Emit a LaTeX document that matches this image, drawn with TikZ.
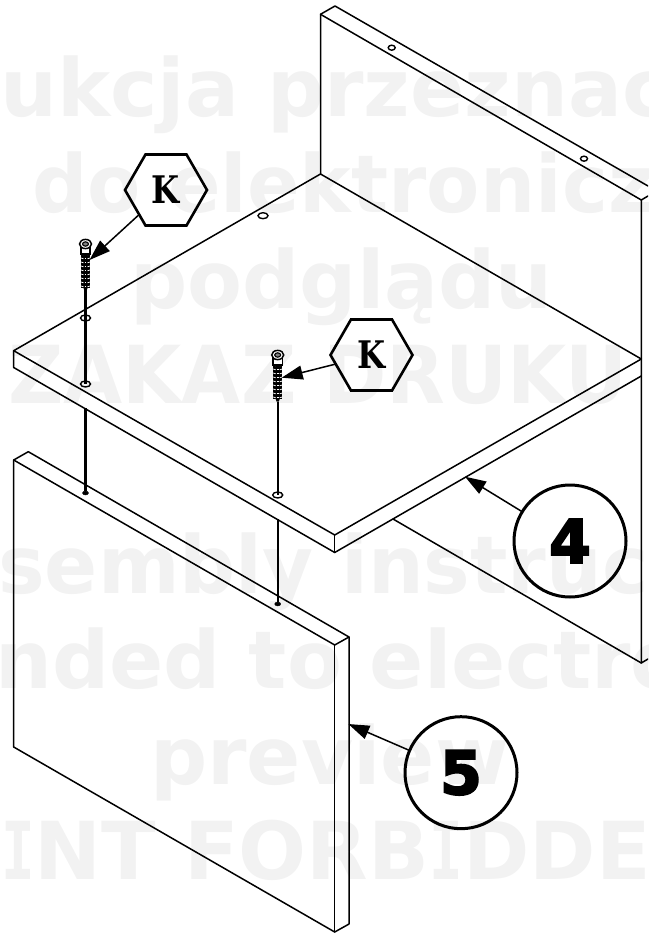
\documentclass[tikz,border=0pt]{standalone}
\usepackage{fontspec}
\usepackage{graphicx}
\usetikzlibrary{shapes.geometric,arrows.meta}
\newfontfamily\wmfont{DejaVu Sans Bold}
\newfontfamily\wmmono{DejaVu Sans Mono Bold}
\newfontfamily\kfont{DejaVu Serif Bold}
\newfontfamily\numfont[FakeBold=3.5]{DejaVu Sans Bold}
\definecolor{wm}{HTML}{F2F2F2}
\newcommand{\slabI}{\scalebox{.7}[1]{\wmmono I}}
\tikzset{
  part/.style={line width=1.5pt,line join=round,line cap=round},
  hexlabel/.style={draw,line width=2.6pt,regular polygon,regular polygon sides=6,minimum size=82pt,inner sep=0pt,outer sep=0pt},
  numcircle/.style={draw,circle,line width=3pt,minimum size=112pt,inner sep=0pt,outer sep=0pt},
  leader/.style={line width=1.5pt,-{Triangle[length=21pt,width=14pt]}},
  watermark/.style={text=wm,inner sep=0pt,anchor=base west,font=\wmfont\fontsize{80}{80}\selectfont},
  hole/.style={draw,ellipse,line width=1.4pt,inner sep=0pt,minimum width=10pt,minimum height=6pt},
  smallhole/.style={draw,ellipse,line width=1.4pt,inner sep=0pt,minimum width=7pt,minimum height=5pt},
  dot/.style={fill=black,draw=black,ellipse,inner sep=0pt,minimum width=6pt,minimum height=4pt},
  rod/.style={line width=2.2pt},
  screw/.pic={
    \fill[black] (-4.6,8) rectangle (4.6,44);
    \foreach \yy in {10,14,...,42}{
      \draw[white,line width=.7pt] (-4.6,\yy) -- (-2,\yy+.8);
      \draw[white,line width=.7pt] (2,\yy+.8) -- (4.6,\yy);
      \draw[white,line width=.5pt] (-.8,\yy) -- (.8,\yy);
    }
    \draw[line width=1.3pt,fill=white] (-4.6,2) -- (-4.6,10) -- (4.6,10) -- (4.6,2);
    \draw[line width=1.5pt,fill=white] (0,0) ellipse (6 and 4.6);
    \draw[line width=1.1pt,fill=black!50] (0,0) ellipse (3 and 2.2);
    \fill[black] (-2,44) -- (2,44) -- (1.2,46.5) -- (-1.2,46.5) -- cycle;
  },
}
\begin{document}
\begin{tikzpicture}[x=1pt,y=-1pt]
\useasboundingbox (0,0) rectangle (648,933);
\clip (0,0) rectangle (648,933);
% watermark
\node[watermark] (w1) at (0,117) {ukcja przeznac};
\node[watermark] (w2) at (32,212) {\scalebox{.97}[1]{do elektronicz}};
\node[watermark] (w3) at (130,308) {podglądu};
\node[watermark] (w4) at (8,403) {\scalebox{.955}[1]{ZAKAZ DRUKU}};
\node[watermark] (w5) at (-2,593) {\scalebox{.98}[1]{sembly instruct}};
\node[watermark] (w6) at (-5,688) {nded to electro};
\node[watermark] (w7) at (150,784) {preview};
\node[watermark] (w8) at (1,879) {\slabI NT FORB\slabI DDE};
% back panel
\draw[part] (320.5,174) -- (320.5,14.3) -- (335,6) -- (648,186);
\draw[part] (320.5,14.3) -- (641.3,200) -- (648,196);
\draw[part] (641.3,200) -- (641.3,663) -- (648,659);
\draw[part] (393,519) -- (641.3,663);
\node[smallhole] (t1) at (391.7,47.7) {};
\node[smallhole] (t2) at (584,158.7) {};
% shelf 4
\draw[part] (320.5,174) -- (13.7,350.7) -- (334.7,535) -- (641.3,359) -- cycle;
\draw[part] (13.7,350.7) -- (13.7,367.5) -- (334.7,552.5) -- (641.3,376);
\draw[part] (334.7,535) -- (334.7,552.5);
\node[hole] (h0) at (263,215.7) {};
% panel 5
\draw[part] (13.7,747) -- (13.7,460) -- (28.3,451.7) -- (349,637) -- (349,924) -- (334.7,932) -- cycle;
\draw[part] (13.7,460) -- (334.7,645) -- (349,637);
\draw[part] (334.7,645) -- (334.7,932);
% fasteners and holes
\node[hole] (h1) at (85.5,318) {};
\node[hole] (h2) at (85.5,384) {};
\node[hole] (h3) at (277.7,495) {};
\node[dot] (d1) at (85.5,493) {};
\node[dot] (d2) at (277.7,604) {};
\coordinate (s1) at (85.5,290);
\coordinate (s2) at (277.7,402);
\coordinate (e1) at (85.5,408);
\coordinate (e2) at (277.7,519);
\draw[rod] (s1) -- (h2.center);
\draw[rod] (s2) -- (h3.center);
\draw[rod] (e1) -- (d1);
\draw[rod] (e2) -- (d2);
\path (85.5,244) pic {screw};
\path (277.7,355) pic {screw};
% labels
\node[hexlabel] (k1) at (166,190) {\scalebox{.85}[1]{\kfont\fontsize{38}{38}\selectfont K}};
\node[hexlabel] (k2) at (371.5,355) {\scalebox{.85}[1]{\kfont\fontsize{38}{38}\selectfont K}};
\node[numcircle] (n4) at (570,541) {\numfont\fontsize{60}{60}\selectfont 4};
\node[numcircle] (n5) at (461,772.7) {\numfont\fontsize{60}{60}\selectfont 5};
\coordinate (a1) at (89.5,260);
\coordinate (a2) at (281.7,377.7);
\coordinate (a4) at (465,476.7);
\coordinate (a5) at (348.3,724);
\draw[leader] (k1) -- (a1);
\draw[leader] (k2) -- (a2);
\draw[leader] (n4) -- (a4);
\draw[leader] (n5) -- (a5);
\end{tikzpicture}
\end{document}
